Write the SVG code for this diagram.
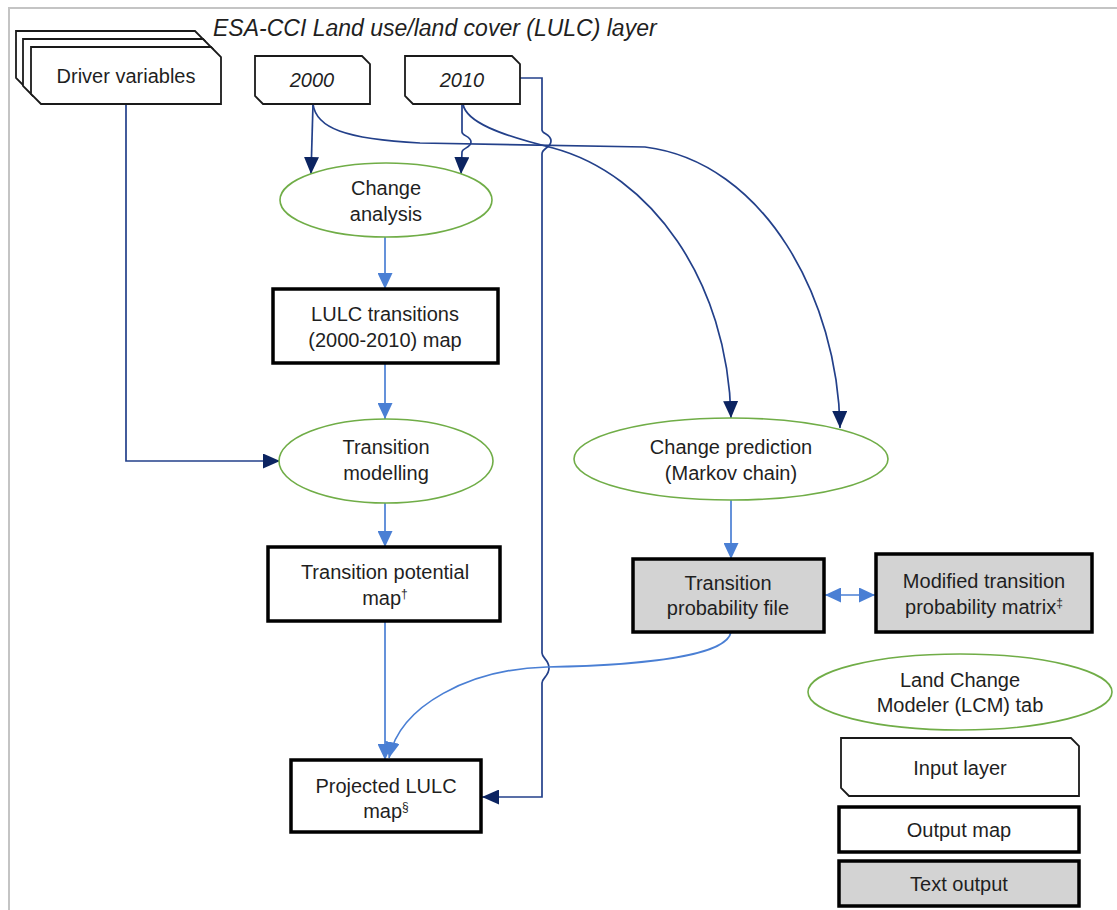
<svg xmlns="http://www.w3.org/2000/svg" width="1117" height="910" viewBox="0 0 1117 910">
<style>
text{font-family:"Liberation Sans",Arial,sans-serif;font-size:20px;fill:#1f1f1f;text-anchor:middle}
.it{font-style:italic}
.title{font-size:23px;text-anchor:start}
.inp{fill:#fff;stroke:#1a1a1a;stroke-width:1.8}
.out{fill:#fff;stroke:#000;stroke-width:3.5}
.txt{fill:#d3d3d3;stroke:#000;stroke-width:3.5}
.ell{fill:#fff;stroke:#70ad47;stroke-width:1.6}
.dk{fill:none;stroke:#23408a;stroke-width:1.7}
.lt{fill:none;stroke:#4a7fd4;stroke-width:1.7}
.sup{font-size:12px}
</style>
<defs>
<marker id="ad" markerUnits="userSpaceOnUse" markerWidth="17" markerHeight="15" refX="17" refY="7.5" orient="auto"><path d="M0,0 L17,7.5 L0,15 z" fill="#0c2461"/></marker>
<marker id="al" markerUnits="userSpaceOnUse" markerWidth="16" markerHeight="15" refX="16" refY="7.5" orient="auto-start-reverse"><path d="M0,0 L16,7.5 L0,15 z" fill="#4a7fd4"/></marker>
</defs>
<rect x="9" y="8" width="1200" height="1000" fill="#fff" stroke="#c4c4c4" stroke-width="2"/>
<text class="it title" x="213" y="36">ESA-CCI Land use/land cover (LULC) layer</text>

<g id="connectors">
<path class="dk" d="M126,104 L126,461 L280,461" marker-end="url(#ad)"/>
<path class="dk" d="M313,104 L311,174" marker-end="url(#ad)"/>
<path class="dk" d="M462,104 L462,132 C462,136 471,136 471,142 C471,148 462,148 462,152 L461,174" marker-end="url(#ad)"/>
<path class="dk" d="M313,104 C316,128 345,139 420,143 L645,147 C765,162 838,300 840,428" marker-end="url(#ad)"/>
<path class="dk" d="M463,104 C466,122 500,135 553,148 C650,174 728,280 731,418" marker-end="url(#ad)"/>
<path class="dk" d="M520,78 L542,78 L542,130 C542,134 551,134 551,141 C551,148 542,148 542,154 L542,653 C542,658 549,660 549,668 C549,676 542,678 542,683 L542,797 L482,797" marker-end="url(#ad)"/>
<path class="lt" d="M385,237 L385,289" marker-end="url(#al)"/>
<path class="lt" d="M385,363 L385,419" marker-end="url(#al)"/>
<path class="lt" d="M385,503 L385,547" marker-end="url(#al)"/>
<path class="lt" d="M385,621 L385,760" marker-end="url(#al)"/>
<path class="lt" d="M731,500 L731,559" marker-end="url(#al)"/>
<path class="lt" d="M731,632 C727,655 650,665 547,667 C470,669 400,705 389,758" marker-end="url(#al)"/>
<path class="lt" d="M825,595 L875,595" marker-start="url(#al)" marker-end="url(#al)"/>
</g>

<g id="driver">
<polygon class="inp" points="16,31 195,31 205,41 205,88 26,88 16,78"/>
<polygon class="inp" points="23,39 203,39 213,49 213,96 33,96 23,86"/>
<polygon class="inp" points="31,47 211,47 221,57 221,104 41,104 31,94"/>
<text x="126" y="83">Driver variables</text>
</g>
<g id="y2000">
<polygon class="inp" points="255,56 362,56 370,64 370,104 263,104 255,96"/>
<text class="it" x="312" y="87">2000</text>
</g>
<g id="y2010">
<polygon class="inp" points="405,56 512,56 520,64 520,104 413,104 405,96"/>
<text class="it" x="462" y="87">2010</text>
</g>
<g id="change-analysis">
<ellipse class="ell" cx="386" cy="200" rx="106" ry="37"/>
<text x="386" y="195">Change</text>
<text x="386" y="221">analysis</text>
</g>
<g id="lulc-transitions">
<rect class="out" x="273" y="289" width="225" height="74"/>
<text x="385" y="321">LULC transitions</text>
<text x="385" y="347">(2000-2010) map</text>
</g>
<g id="transition-modelling">
<ellipse class="ell" cx="386" cy="461" rx="107" ry="42"/>
<text x="386" y="454">Transition</text>
<text x="386" y="480">modelling</text>
</g>
<g id="transition-potential">
<rect class="out" x="268" y="547" width="232" height="74"/>
<text x="385" y="579">Transition potential</text>
<text x="385" y="605">map<tspan class="sup" dy="-7">†</tspan></text>
</g>
<g id="projected">
<rect class="out" x="291" y="760" width="190" height="72"/>
<text x="386" y="793">Projected LULC</text>
<text x="386" y="818">map<tspan class="sup" dy="-7">§</tspan></text>
</g>
<g id="change-prediction">
<ellipse class="ell" cx="731" cy="459" rx="157" ry="41"/>
<text x="731" y="454">Change prediction</text>
<text x="731" y="480">(Markov chain)</text>
</g>
<g id="transition-probability">
<rect class="txt" x="633" y="559" width="191" height="73"/>
<text x="728" y="590">Transition</text>
<text x="728" y="615">probability file</text>
</g>
<g id="modified-matrix">
<rect class="txt" x="876" y="554" width="216" height="78"/>
<text x="984" y="588">Modified transition</text>
<text x="984" y="614">probability matrix<tspan class="sup" dy="-7">‡</tspan></text>
</g>
<g id="legend-lcm">
<ellipse class="ell" cx="960" cy="692" rx="152" ry="38"/>
<text x="960" y="687">Land Change</text>
<text x="960" y="712">Modeler (LCM) tab</text>
</g>
<g id="legend-input">
<polygon class="inp" points="841,738 1071,738 1079,746 1079,796 849,796 841,788"/>
<text x="960" y="775">Input layer</text>
</g>
<g id="legend-output">
<rect class="out" x="839" y="807" width="240" height="45"/>
<text x="959" y="837">Output map</text>
</g>
<g id="legend-text">
<rect class="txt" x="839" y="861" width="240" height="45"/>
<text x="959" y="891">Text output</text>
</g>
</svg>
